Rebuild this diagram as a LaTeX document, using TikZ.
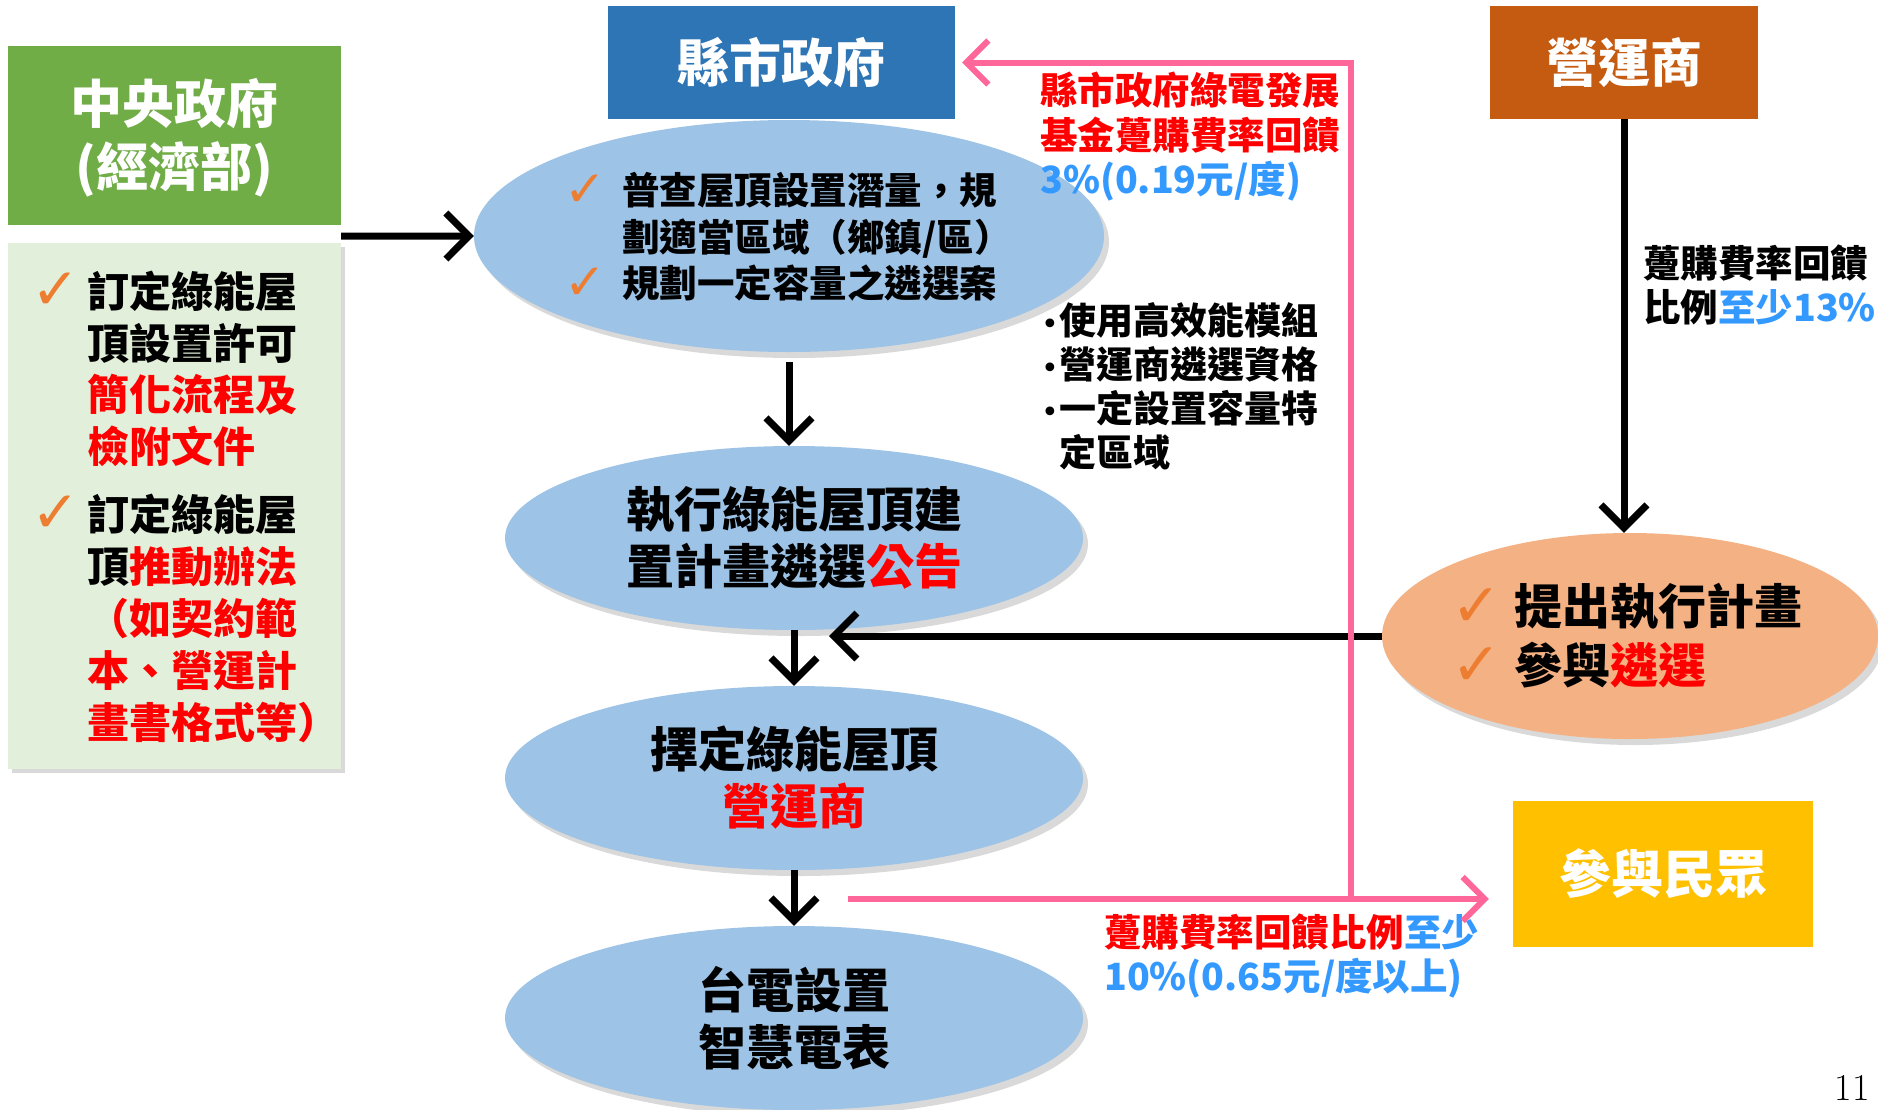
\documentclass[tikz,border=0pt]{standalone}
\usepackage{fontspec}
\newfontfamily\cjk{Noto Sans CJK TC}
\newfontfamily\sym{DejaVu Sans}
\usetikzlibrary{arrows.meta,shadows,shapes.geometric}

\definecolor{govgreen}{HTML}{70AD47}
\definecolor{palegreen}{HTML}{E2EFDA}
\definecolor{countyblue}{HTML}{2E75B6}
\definecolor{opbrown}{HTML}{C55A11}
\definecolor{peopleyellow}{HTML}{FFC000}
\definecolor{ovalblue}{HTML}{9DC3E6}
\definecolor{ovalorange}{HTML}{F4B183}
\definecolor{fundpink}{HTML}{FF6699}
\definecolor{hired}{HTML}{FF0000}
\definecolor{hiblue}{HTML}{3399FF}
\definecolor{tickorange}{HTML}{ED7D31}

% #1 largeur de la colonne, #2 taille de la coche, #3 decalage
\newcommand{\chk}[3]{\makebox[#1][l]{\hspace*{#3}\makebox[0pt][l]{\raisebox{-2pt}[0pt][0pt]{\fontsize{#2}{#2}\sym\mdseries\color{tickorange}✓}}}}
\newcommand{\blt}{\makebox[17pt][l]{\hspace*{-1pt}{\fontsize{30}{30}\sym\mdseries •}}}
\newcommand{\redtxt}[1]{\textcolor{hired}{#1}}
\newcommand{\bluetxt}[1]{\textcolor{hiblue}{#1}}
\newcommand{\sinktxt}[1]{\raisebox{-6pt}[\height][\depth]{#1}}

\begin{document}
\begin{tikzpicture}[
			x=1pt, y=-1pt,
			title/.style={
					rectangle,
					inner sep=0pt,
					text=white,
					align=center,
					font=\cjk\bfseries\fontsize{52}{60}\selectfont
				},
			oval/.style={
					ellipse,
					fill=ovalblue,
					inner sep=0pt,
					align=center,
					minimum width=578pt,
					minimum height=184pt,
					font=\cjk\bfseries\fontsize{48}{57}\selectfont,
					drop shadow={shadow xshift=5pt, shadow yshift=-6pt, opacity=0.3}
				},
			note/.style={
					anchor=west,
					inner sep=0pt,
					align=left,
					font=\cjk\bfseries\fontsize{37.5}{44.5}\selectfont
				},
			flow/.style={draw, line width=7pt, -{Straight Barb[length=23pt, width=46pt]}},
			fund/.style={draw=fundpink, line width=6pt, -{Straight Barb[length=22pt, width=44pt]}}
		]
		\useasboundingbox (0,0) rectangle (1878,1109);

		\node[title, fill=govgreen, minimum width=333pt, minimum height=179pt] (central) at (174.5,135.5) {\sinktxt{\begin{tabular}{@{}c@{}}中央政府\\(經濟部)\end{tabular}}};
		\node[
				rectangle,
				fill=palegreen,
				anchor=north west,
				inner sep=0pt,
				text width=333pt,
				minimum height=526pt,
				align=left,
				font=\cjk\bfseries\fontsize{42}{51.7}\selectfont,
				drop shadow={shadow xshift=4pt, shadow yshift=-4pt, opacity=0.3}
			] (rules) at (8,243) {\noindent\hspace*{37pt}\sinktxt{\begin{tabular}{@{}l@{}l@{}}
					\chk{42pt}{58pt}{-14pt} & 訂定綠能屋\\
					& 頂設置許可\\
					& \redtxt{簡化流程及}\\
					& \redtxt{檢附文件}\\[16pt]
					\chk{42pt}{58pt}{-14pt} & 訂定綠能屋\\
					& 頂\redtxt{推動辦法}\\
					& \redtxt{（如契約範}\\
					& \redtxt{本、營運計}\\
					& \redtxt{畫書格式等）}
				\end{tabular}}};
		\node[title, fill=countyblue, minimum width=347pt, minimum height=113pt] (county) at (781.5,62.5) {縣市政府};
		\node[title, fill=opbrown, minimum width=268pt, minimum height=113pt] (operator) at (1624,62.5) {營運商};
		\node[title, fill=peopleyellow, minimum width=300pt, minimum height=146pt] (people) at (1663,874) {參與民眾};

		\node[oval, minimum width=622pt, minimum height=232pt, font=\cjk\bfseries\fontsize{37.5}{45.5}\selectfont] (survey) at (789,236) {\sinktxt{\begin{tabular}{@{}l@{}l@{}}
					\chk{56pt}{50pt}{-2pt} & 普查屋頂設置潛量，規\\
					& 劃適當區域（鄉鎮/區）\\
					\chk{56pt}{50pt}{-2pt} & 規劃一定容量之遴選案
				\end{tabular}}};
		\node[oval] (tender) at (794,538) {執行綠能屋頂建\\置計畫遴選\redtxt{公告}};
		\node[oval] (select) at (794,778) {擇定綠能屋頂\\\redtxt{營運商}};
		\node[oval] (meter) at (794,1018) {台電設置\\智慧電表};
		\node[oval, fill=ovalorange, minimum width=496pt, minimum height=206pt] (apply) at (1630,636) {\sinktxt{\begin{tabular}{@{}l@{}l@{}}
					\chk{57pt}{60pt}{-6pt} & 提出執行計畫\\
					\chk{57pt}{60pt}{-6pt} & 參與\redtxt{遴選}
				\end{tabular}}};

		\node[note] (fundlabel) at (1040,137) {\redtxt{縣市政府綠電發展}\\\redtxt{基金躉購費率回饋}\\\bluetxt{3\%(0.19元/度)}};
		\node[note, font=\cjk\bfseries\fontsize{37}{44}\selectfont] (criteria) at (1042,386) {\blt 使用高效能模組\\\blt 營運商遴選資格\\\blt 一定設置容量特\\\hspace*{17pt}定區域};
		\node[note] (oplabel) at (1643,285) {躉購費率回饋\\比例\bluetxt{至少13\%}};
		\node[note] (peoplelabel) at (1104,956) {\redtxt{躉購費率回饋比例}\bluetxt{至少}\\\bluetxt{10\%(0.65元/度以上)}};
		\node[anchor=base east, inner sep=0pt, font=\fontsize{38}{44}\selectfont] (pagenum) at (1870,1100) {11};

		\draw[flow] ([yshift=-11pt]central.south east) -- (survey.west);
		\draw[flow] ([yshift=-10pt]survey.south) -- (survey.south |- tender.north);
		\draw[flow] (tender.south) -- (select.north);
		\draw[flow] (select.south) -- (meter.north);
		\draw[flow] (operator.south) -- (operator.south |- apply.north);
		\coordinate (merge) at (829,636);
		\draw[flow] (apply.west) -- (merge);

		\coordinate (fundstart) at (848,899);
		\coordinate (split) at (1351,899);
		\draw[fund, shorten >=24pt] (fundstart) -- (people.west |- fundstart);
		\draw[fund, shorten >=7pt] (split) |- (county.east);
	\end{tikzpicture}
\end{document}
